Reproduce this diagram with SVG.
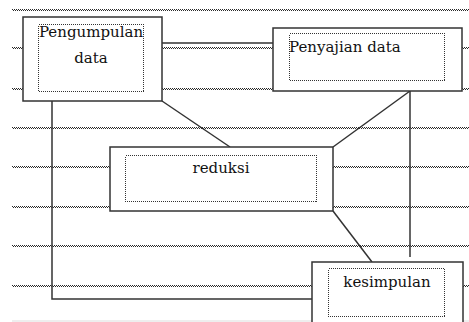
<svg xmlns="http://www.w3.org/2000/svg" width="469" height="322" viewBox="0 0 469 322">
<style>
.bg{fill:#fff}
.wave{stroke:#2a2a2a;stroke-width:1;stroke-dasharray:1 1;fill:none;shape-rendering:crispEdges}
.box{fill:#fff;stroke:#333;stroke-width:1.5}
.inner{fill:none;stroke:#333;stroke-width:1;stroke-dasharray:1 1;shape-rendering:crispEdges}
.conn{stroke:#333;stroke-width:1.5;fill:none}
.t{font-family:"DejaVu Serif","Liberation Serif",serif;font-size:15px;fill:#111}
</style>
<defs>
<g id="w">
<line class="wave" x1="12" y1="0.5" x2="469" y2="0.5"/>
<line class="wave" x1="13" y1="1.5" x2="469" y2="1.5"/>
</g>
</defs>
<rect class="bg" x="0" y="0" width="469" height="322"/>
<g id="rules">
<use href="#w" y="9"/>
<use href="#w" y="47"/>
<use href="#w" y="88"/>
<use href="#w" y="127"/>
<use href="#w" y="166"/>
<use href="#w" y="206"/>
<use href="#w" y="245"/>
<use href="#w" y="285"/>
<line x1="12" y1="321" x2="469" y2="321" stroke="#ddd" stroke-width="1"/>
</g>
<g id="connectors">
<line class="conn" x1="162" y1="43" x2="273" y2="43"/>
<line class="conn" x1="162" y1="101" x2="230" y2="147"/>
<polyline class="conn" points="52,101 52,299 312,299"/>
<line class="conn" x1="410" y1="91" x2="333" y2="147"/>
<line class="conn" x1="410" y1="91" x2="410" y2="257"/>
<line class="conn" x1="333" y1="211" x2="372" y2="262"/>
</g>
<g id="pengumpulan">
<rect class="box" x="23" y="17" width="139" height="84"/>
<rect class="inner" x="38.5" y="24.5" width="105" height="67"/>
<text class="t" x="91" y="37" text-anchor="middle">Pengumpulan</text>
<text class="t" x="91" y="63" text-anchor="middle">data</text>
</g>
<g id="penyajian">
<rect class="box" x="273" y="28" width="189" height="63"/>
<rect class="inner" x="289.5" y="33.5" width="155" height="47"/>
<text class="t" x="289" y="52">Penyajian data</text>
</g>
<g id="reduksi">
<rect class="box" x="110" y="147" width="223" height="64"/>
<rect class="inner" x="125.5" y="155.5" width="191" height="46"/>
<text class="t" x="221" y="173" text-anchor="middle">reduksi</text>
</g>
<g id="kesimpulan">
<rect class="box" x="312" y="262" width="151" height="70"/>
<rect class="inner" x="328.5" y="268.5" width="116" height="48"/>
<text class="t" x="387" y="287" text-anchor="middle">kesimpulan</text>
</g>
</svg>
